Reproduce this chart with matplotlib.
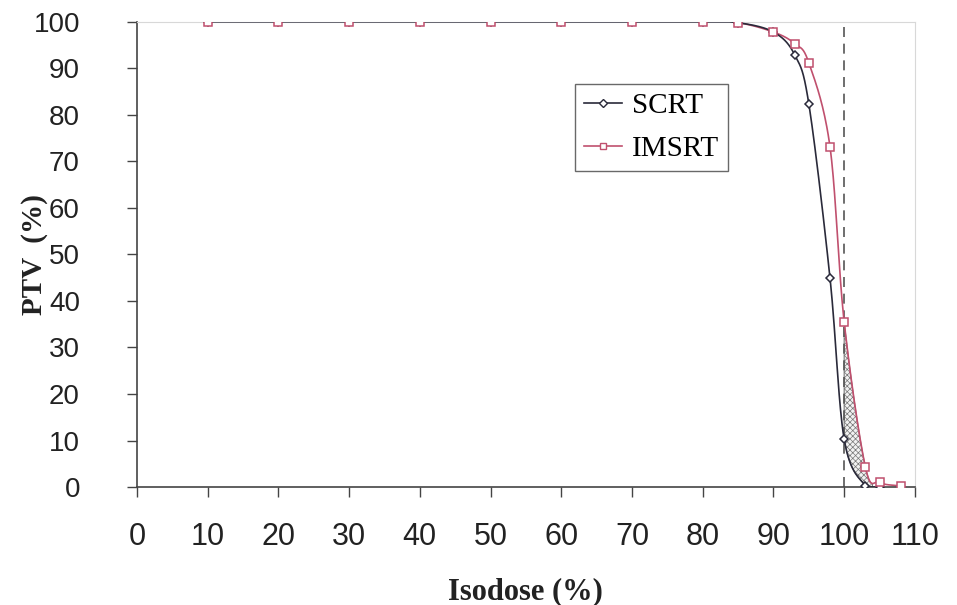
import numpy as np
import matplotlib
matplotlib.use("Agg")
import matplotlib.pyplot as plt
from matplotlib.lines import Line2D

# Isodose (%) sample points and PTV (%) covered
isodose = [10, 20, 30, 40, 50, 60, 70, 80, 85, 90, 93, 95, 98, 100, 103, 105, 108]
scrt = [100, 100, 100, 100, 100, 100, 100, 100, 99.8, 97.8, 92.9, 82.4, 44.9, 10.3, 0.3, 0, None]
imsrt = [100, 100, 100, 100, 100, 100, 100, 100, 99.8, 97.8, 95.3, 91.2, 73.1, 35.5, 4.3, 1.0, 0.2]

SCRT_C = "#2a2a3a"
IMSRT_C = "#c0506e"
GRID_C = "#d8d8d8"
TEXT_C = "#222222"


def smooth(x, y, n=30):
    """Catmull-Rom curve through the points, like Excel's smoothed line."""
    x = np.asarray(x, float)
    y = np.asarray(y, float)
    px = np.concatenate([[2 * x[0] - x[1]], x, [2 * x[-1] - x[-2]]])
    py = np.concatenate([[2 * y[0] - y[1]], y, [2 * y[-1] - y[-2]]])
    xs, ys = [], []
    t = np.linspace(0, 1, n, endpoint=False)
    for i in range(1, len(px) - 2):
        for p, out in ((px, xs), (py, ys)):
            p0, p1, p2, p3 = p[i - 1], p[i], p[i + 1], p[i + 2]
            out.append(0.5 * ((2 * p1) + (-p0 + p2) * t
                              + (2 * p0 - 5 * p1 + 4 * p2 - p3) * t ** 2
                              + (-p0 + 3 * p1 - 3 * p2 + p3) * t ** 3))
    xs = np.concatenate(xs + [[x[-1]]])
    ys = np.concatenate(ys + [[y[-1]]])
    return xs, np.clip(ys, 0, 100)


sx = [a for a, b in zip(isodose, scrt) if b is not None]
sy = [b for b in scrt if b is not None]

plt.rcParams["font.family"] = "Liberation Sans"
plt.rcParams["hatch.linewidth"] = 0.5
fig = plt.figure(figsize=(9.57, 6.05), dpi=100)
ax = fig.add_axes([0.143, 0.195, 0.813, 0.769])

ax.set_xlim(0, 110)
ax.set_ylim(0, 100)

# hatched area between the two curves above the 100% isodose
xs_s, ys_s = smooth(sx, sy)
xs_i, ys_i = smooth(isodose, imsrt)
xg = np.linspace(100, 104, 200)
ys_g = np.interp(xg, xs_s, ys_s)
yi_g = np.interp(xg, xs_i, ys_i)
ax.fill_between(xg, ys_g, yi_g, where=yi_g >= ys_g, facecolor="#f2f2f2",
                edgecolor="#777777", hatch="xxxxxx", linewidth=0.8, zorder=1)

ax.axvline(100, color="#555555", lw=1.2, ls=(0, (6, 4)), zorder=1)

ax.plot(xs_s, ys_s, color=SCRT_C, lw=1.2, zorder=3)
ax.plot(sx, sy, ls="none", marker="D", ms=4.5, mfc="white", mec=SCRT_C,
        mew=1.1, zorder=4)
ax.plot(xs_i, ys_i, color=IMSRT_C, lw=1.2, zorder=2)
ax.plot(isodose, imsrt, ls="none", marker="s", ms=5.8, mfc="white", mec=IMSRT_C,
        mew=1.1, zorder=4)

for side in ("top", "right"):
    ax.spines[side].set_color(GRID_C)
for side in ("left", "bottom"):
    ax.spines[side].set_color("#444444")
    ax.spines[side].set_linewidth(1.2)

ax.set_xticks(range(0, 111, 10))
ax.set_yticks(range(0, 101, 10))
ax.tick_params(direction="out", length=7, width=1, color="#444444",
               labelcolor=TEXT_C)
ax.tick_params(axis="x", labelsize=22, pad=18)
ax.tick_params(axis="y", labelsize=20, pad=34)

ax.set_xlabel("Isodose (%)", family="Liberation Serif", fontweight="bold",
              fontsize=22, color=TEXT_C, labelpad=18)
ax.set_ylabel("PTV  (%)", family="Liberation Serif", fontweight="bold",
              fontsize=21, color=TEXT_C)
ax.yaxis.set_label_coords(-0.114, 0.5)

handles = [
    Line2D([], [], color=SCRT_C, lw=1.2, marker="D", ms=4, mfc="white",
           mec=SCRT_C, mew=1.0),
    Line2D([], [], color=IMSRT_C, lw=1.2, marker="s", ms=5, mfc="white",
           mec=IMSRT_C, mew=1.0),
]
leg = ax.legend(handles, ["SCRT", "IMSRT"], loc="upper left",
                bbox_to_anchor=(0.563, 0.867), frameon=True, fancybox=False,
                edgecolor="#444444", prop={"family": "Liberation Serif", "size": 21},
                handlelength=1.3, borderpad=0.3, labelspacing=0.58,
                handletextpad=0.35, borderaxespad=0)
leg.get_frame().set_linewidth(1.0)

fig.savefig("out.png", dpi=100, facecolor="white")
